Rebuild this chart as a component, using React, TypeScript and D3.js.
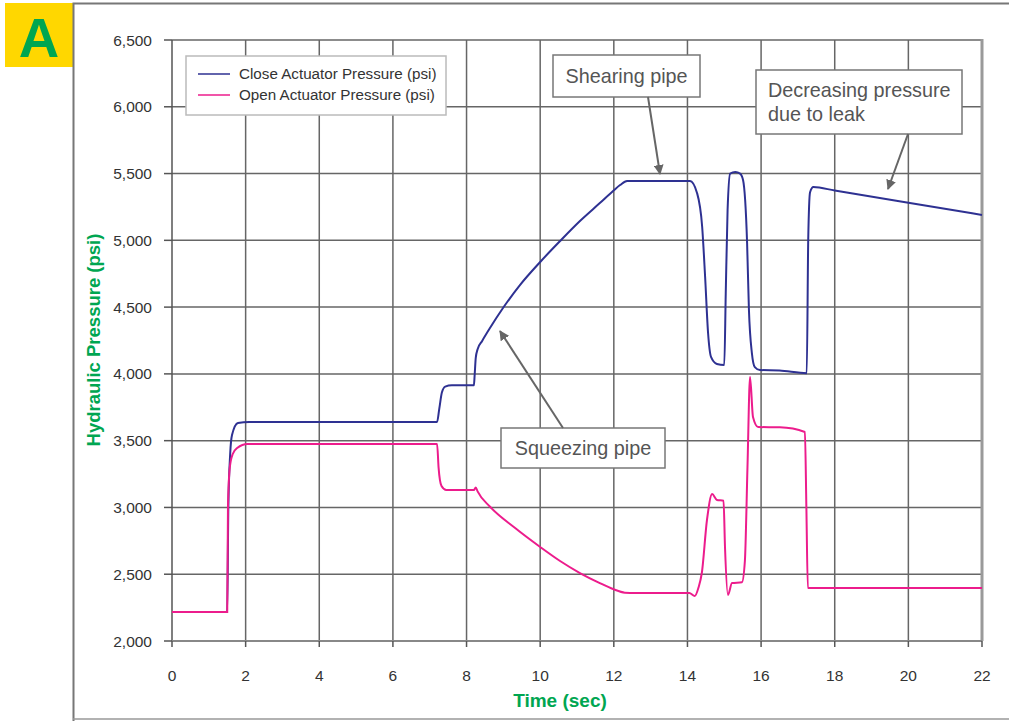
import React from "react";
import * as d3 from "d3";

const xTicks = [0, 2, 4, 6, 8, 10, 12, 14, 16, 18, 20, 22];
const yTicks = [2000, 2500, 3000, 3500, 4000, 4500, 5000, 5500, 6000, 6500];

const seriesNames = ["Close Actuator Pressure (psi)", "Open Actuator Pressure (psi)"];
const seriesColors = ["#2E3192", "#EC1C8C"];

const closeT = [0, 1.5, 1.53, 1.58, 1.63, 1.79, 2.1, 7.2, 7.26, 7.33, 7.42, 7.6, 8.2, 8.22, 8.25, 8.3, 8.42, 8.64, 8.99, 9.45, 10.0, 10.54, 11.08, 11.62, 11.98, 12.17, 12.36, 12.58, 14.07, 14.26, 14.4, 14.48, 14.56, 14.64, 14.8, 15.0, 15.04, 15.09, 15.16, 15.3, 15.43, 15.51, 15.62, 15.67, 15.75, 15.83, 15.97, 16.5, 17.24, 17.28, 17.33, 17.42, 18, 20, 22];
const closeP = [2218, 2218, 3000, 3400, 3542, 3632, 3640, 3640, 3740, 3860, 3905, 3915, 3915, 3990, 4120, 4185, 4245, 4345, 4493, 4665, 4838, 4995, 5145, 5279, 5369, 5414, 5444, 5445, 5445, 5355, 5100, 4725, 4306, 4127, 4074, 4066, 4600, 5227, 5500, 5512, 5500, 5452, 4980, 4478, 4156, 4051, 4029, 4025, 4005, 5000, 5360, 5399, 5373, 5282, 5190];

const openT = [0, 1.5, 1.52, 1.57, 1.65, 1.77, 2.05, 7.2, 7.24, 7.32, 7.45, 8.2, 8.25, 8.3, 8.64, 9.32, 10.0, 10.54, 11.08, 11.62, 11.98, 12.3, 12.58, 14.05, 14.2, 14.3, 14.39, 14.53, 14.67, 14.8, 14.98, 15.02, 15.1, 15.21, 15.48, 15.56, 15.63, 15.7, 15.78, 15.92, 16.51, 17.19, 17.23, 17.27, 18, 20, 22];
const openP = [2218, 2218, 3000, 3300, 3400, 3445, 3475, 3475, 3300, 3160, 3130, 3130, 3150, 3120, 3005, 2846, 2704, 2599, 2509, 2434, 2389, 2362, 2360, 2360, 2337, 2400, 2509, 2906, 3100, 3056, 3050, 2700, 2344, 2434, 2440, 2600, 3300, 3977, 3677, 3602, 3600, 3565, 3000, 2397, 2397, 2397, 2397];

const annotations = [
  { lines: ["Shearing pipe"], box: [553, 55, 147, 42], from: [648, 97], to: [660, 174] },
  { lines: ["Decreasing pressure", "due to leak"], box: [756, 70, 206, 64], from: [908, 134], to: [888, 189] },
  { lines: ["Squeezing pipe"], box: [501, 428, 164, 40], from: [563, 428], to: [500, 331] },
];

const FONT = "'Liberation Sans', Arial, Helvetica, sans-serif";

export default function App() {
  const x = d3.scaleLinear().domain([0, 22]).range([172, 982]);
  const y = d3.scaleLinear().domain([2000, 6500]).range([641, 40]);
  const line = d3
    .line<[number, number]>()
    .x((d) => x(d[0]))
    .y((d) => y(d[1]))
    .curve(d3.curveMonotoneX);
  const closeData = closeT.map((t, i) => [t, closeP[i]] as [number, number]);
  const openData = openT.map((t, i) => [t, openP[i]] as [number, number]);
  const green = "#00A651";

  return (
    <svg width={1009} height={721} style={{ position: "absolute", left: 0, top: 0 }} fontFamily={FONT}>
      <defs>
        <marker id="arr" viewBox="0 0 10 10" refX="9" refY="5" markerWidth="5" markerHeight="5" orient="auto" markerUnits="strokeWidth">
          <path d="M0,0 L10,5 L0,10 z" fill="#666" />
        </marker>
      </defs>
      <rect x={0} y={0} width={1009} height={721} fill="#fff" />
      <rect x={5} y={3} width={68} height={64} fill="#FFD700" />
      <text x={39} y={57} textAnchor="middle" fontSize={56} fontWeight="bold" fill={green}>A</text>
      <path d="M73.5,721 L73.5,3.5 L1012,3.5" fill="none" stroke="#777" strokeWidth={2} />
      <line x1={73} x2={1012} y1={719} y2={719} stroke="#999" strokeWidth={1.5} />
      {xTicks.slice(1, -1).map((t) => (
        <line key={"gx" + t} x1={x(t)} x2={x(t)} y1={y(6500)} y2={y(2000)} stroke="#666" strokeWidth={1.5} />
      ))}
      {yTicks.slice(1).map((v) => (
        <line key={"gy" + v} x1={x(0)} x2={x(22)} y1={y(v)} y2={y(v)} stroke="#666" strokeWidth={1.5} />
      ))}
      <line x1={x(22)} x2={x(22)} y1={y(6500) - 1} y2={y(2000)} stroke="#9a9a9a" strokeWidth={3} />
      <line x1={x(0)} x2={x(0)} y1={y(6500)} y2={y(2000)} stroke="#555" strokeWidth={1.5} />
      <line x1={x(0)} x2={x(22)} y1={y(2000)} y2={y(2000)} stroke="#888" strokeWidth={2} />
      {yTicks.map((v) => (
        <g key={"yt" + v}>
          <line x1={x(0) - 8} x2={x(0)} y1={y(v)} y2={y(v)} stroke="#555" strokeWidth={1.5} />
          <text x={152} y={y(v) + 5.5} textAnchor="end" fontSize={15.5} fill="#333">{d3.format(",")(v)}</text>
        </g>
      ))}
      {xTicks.map((t) => (
        <g key={"xt" + t}>
          <line x1={x(t)} x2={x(t)} y1={y(2000)} y2={y(2000) + 6} stroke="#555" strokeWidth={1.5} />
          <text x={x(t)} y={681} textAnchor="middle" fontSize={15.5} fill="#333">{t}</text>
        </g>
      ))}
      <text x={560} y={707} textAnchor="middle" fontSize={19} fontWeight="bold" fill={green}>Time (sec)</text>
      <text transform="translate(100,340) rotate(-90)" textAnchor="middle" fontSize={18.5} fontWeight="bold" fill={green}>Hydraulic Pressure (psi)</text>
      <path d={line(closeData) || ""} fill="none" stroke={seriesColors[0]} strokeWidth={2} />
      <path d={line(openData) || ""} fill="none" stroke={seriesColors[1]} strokeWidth={2} />
      <rect x={186} y={56} width={260} height={59} fill="#fff" stroke="#bbb" strokeWidth={1.5} />
      {seriesNames.map((n, i) => (
        <g key={n}>
          <line x1={198} x2={230} y1={74 + i * 21} y2={74 + i * 21} stroke={seriesColors[i]} strokeWidth={1.5} />
          <text x={239} y={79 + i * 21} fontSize={15.2} fill="#333">{n}</text>
        </g>
      ))}
      {annotations.map((a, i) => (
        <g key={"an" + i}>
          <rect x={a.box[0]} y={a.box[1]} width={a.box[2]} height={a.box[3]} fill="#fff" stroke="#777" strokeWidth={1.5} />
          {a.lines.map((l, j) => (
            <text key={j} x={a.box[0] + (a.lines.length > 1 ? 12 : a.box[2] / 2)} y={a.box[1] + (a.lines.length > 1 ? 27 + j * 24 : a.box[3] / 2 + 7)} textAnchor={a.lines.length > 1 ? "start" : "middle"} fontSize={19.8} fill="#555">{l}</text>
          ))}
          <line x1={a.from[0]} y1={a.from[1]} x2={a.to[0]} y2={a.to[1]} stroke="#666" strokeWidth={2} markerEnd="url(#arr)" />
        </g>
      ))}
    </svg>
  );
}
